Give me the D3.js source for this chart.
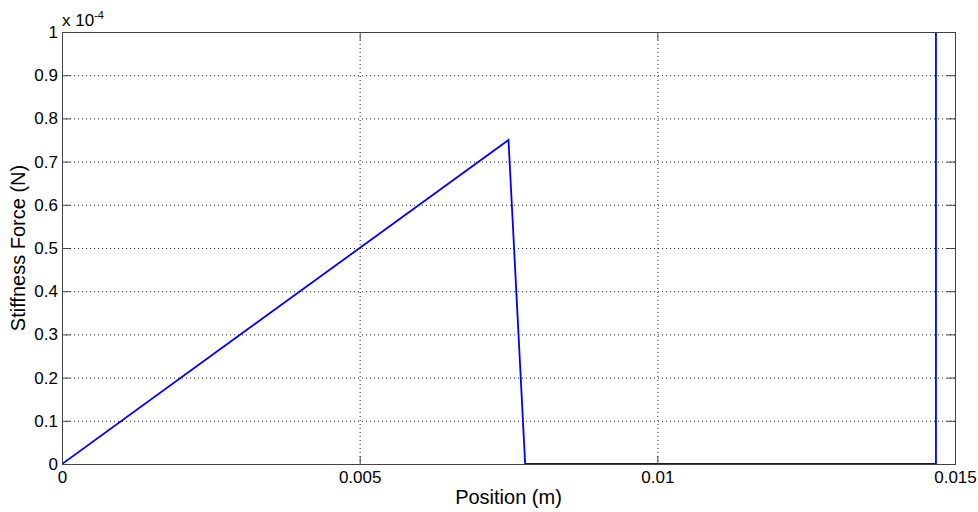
<!DOCTYPE html>
<html>
<head>
<meta charset="utf-8">
<script src="https://cdn.jsdelivr.net/npm/d3@7"></script>
<style>
  body { margin: 0; background: #fff; }
  svg { display: block; font-family: "Liberation Sans", Arial, sans-serif; }
  .grid line { stroke: #222; stroke-dasharray: 1 3; stroke-width: 1; }
</style>
</head>
<body>
<div id="graph"></div>
<script>
// data (force values in units of 1e-4 N)
const positions = [0, 0.0075, 0.00778, 0.01468, 0.01468];
const forces = [0, 0.75, 0, 0, 1.2];
const xTicks = [0, 0.005, 0.01, 0.015];
const xTickLabels = ['0', '0.005', '0.01', '0.015'];
const yTicks = [0, 0.1, 0.2, 0.3, 0.4, 0.5, 0.6, 0.7, 0.8, 0.9, 1];
const yTickLabels = ['0', '0.1', '0.2', '0.3', '0.4', '0.5', '0.6', '0.7', '0.8', '0.9', '1'];

const canvasWidth = 978;
const canvasHeight = 512;
const margins = { top: 32, right: 23, bottom: 48, left: 62 };
const width = canvasWidth - margins.left - margins.right;
const height = canvasHeight - margins.top - margins.bottom;

const svg = d3.select('#graph')
  .append('svg')
    .attr('width', canvasWidth)
    .attr('height', canvasHeight);

const graph = svg.append('g')
  .attr('transform', `translate(${margins.left}, ${margins.top})`);

const scaleX = d3.scaleLinear().domain([0, 0.015]).range([0, width]);
const scaleY = d3.scaleLinear().domain([0, 1]).range([height, 0]);

// grid
graph.append('g')
  .attr('class', 'grid')
  .selectAll('line')
  .data(xTicks.slice(1, -1))
  .enter().append('line')
    .attr('x1', d => scaleX(d) + 0.5).attr('x2', d => scaleX(d) + 0.5)
    .attr('y1', 0).attr('y2', height);
graph.append('g')
  .attr('class', 'grid')
  .selectAll('line')
  .data(yTicks.slice(1, -1))
  .enter().append('line')
    .attr('y1', d => scaleY(d) + 0.5).attr('y2', d => scaleY(d) + 0.5)
    .attr('x1', 0).attr('x2', width);

// clip
svg.append('defs').append('clipPath').attr('id', 'clip')
  .append('rect').attr('width', width).attr('height', height);

const line = d3.line()
  .x((d, i) => scaleX(positions[i]))
  .y(d => scaleY(d));

graph.append('path')
  .attr('clip-path', 'url(#clip)')
  .datum(forces)
  .attr('fill', 'none')
  .attr('stroke', '#0000ff')
  .attr('stroke-width', 1.8)
  .attr('d', line);

// axes (ticks inside, mirrored)
const tickLen = 8;
const axisStyle = g => {
  g.attr('font-size', 17);
  g.select('.domain').remove();
  g.selectAll('line').attr('stroke', '#444');
  g.selectAll('text').attr('font-size', 17).attr('fill', '#000');
};
graph.append('g')
  .attr('transform', `translate(0, ${height})`)
  .call(d3.axisBottom(scaleX).tickValues(xTicks).tickFormat((d, i) => xTickLabels[i])
    .tickSizeInner(-tickLen).tickSizeOuter(0).tickPadding(7))
  .call(axisStyle);
graph.append('g')
  .call(d3.axisTop(scaleX).tickValues(xTicks).tickFormat('')
    .tickSizeInner(-tickLen).tickSizeOuter(0))
  .call(axisStyle);
graph.append('g')
  .call(d3.axisLeft(scaleY).tickValues(yTicks).tickFormat((d, i) => yTickLabels[i])
    .tickSizeInner(-tickLen).tickSizeOuter(0).tickPadding(4))
  .call(axisStyle);
graph.append('g')
  .attr('transform', `translate(${width}, 0)`)
  .call(d3.axisRight(scaleY).tickValues(yTicks).tickFormat('')
    .tickSizeInner(-tickLen).tickSizeOuter(0))
  .call(axisStyle);

// box
graph.append('rect')
  .attr('x', 0.5).attr('y', 0.5)
  .attr('width', width).attr('height', height)
  .attr('fill', 'none').attr('stroke', '#444');

// exponent label
const expo = graph.append('text')
  .attr('x', 0).attr('y', -6)
  .attr('font-size', 17);
expo.append('tspan').text('x 10');
expo.append('tspan').attr('dy', -7).attr('font-size', 11).text('-4');

// axis labels
graph.append('text')
  .attr('x', width / 2).attr('y', height + 40)
  .attr('text-anchor', 'middle').attr('font-size', 20)
  .text('Position (m)');
graph.append('text')
  .attr('transform', `translate(${-37}, ${height / 2}) rotate(-90)`)
  .attr('text-anchor', 'middle').attr('font-size', 20)
  .text('Stiffness Force (N)');
</script>
</body>
</html>
